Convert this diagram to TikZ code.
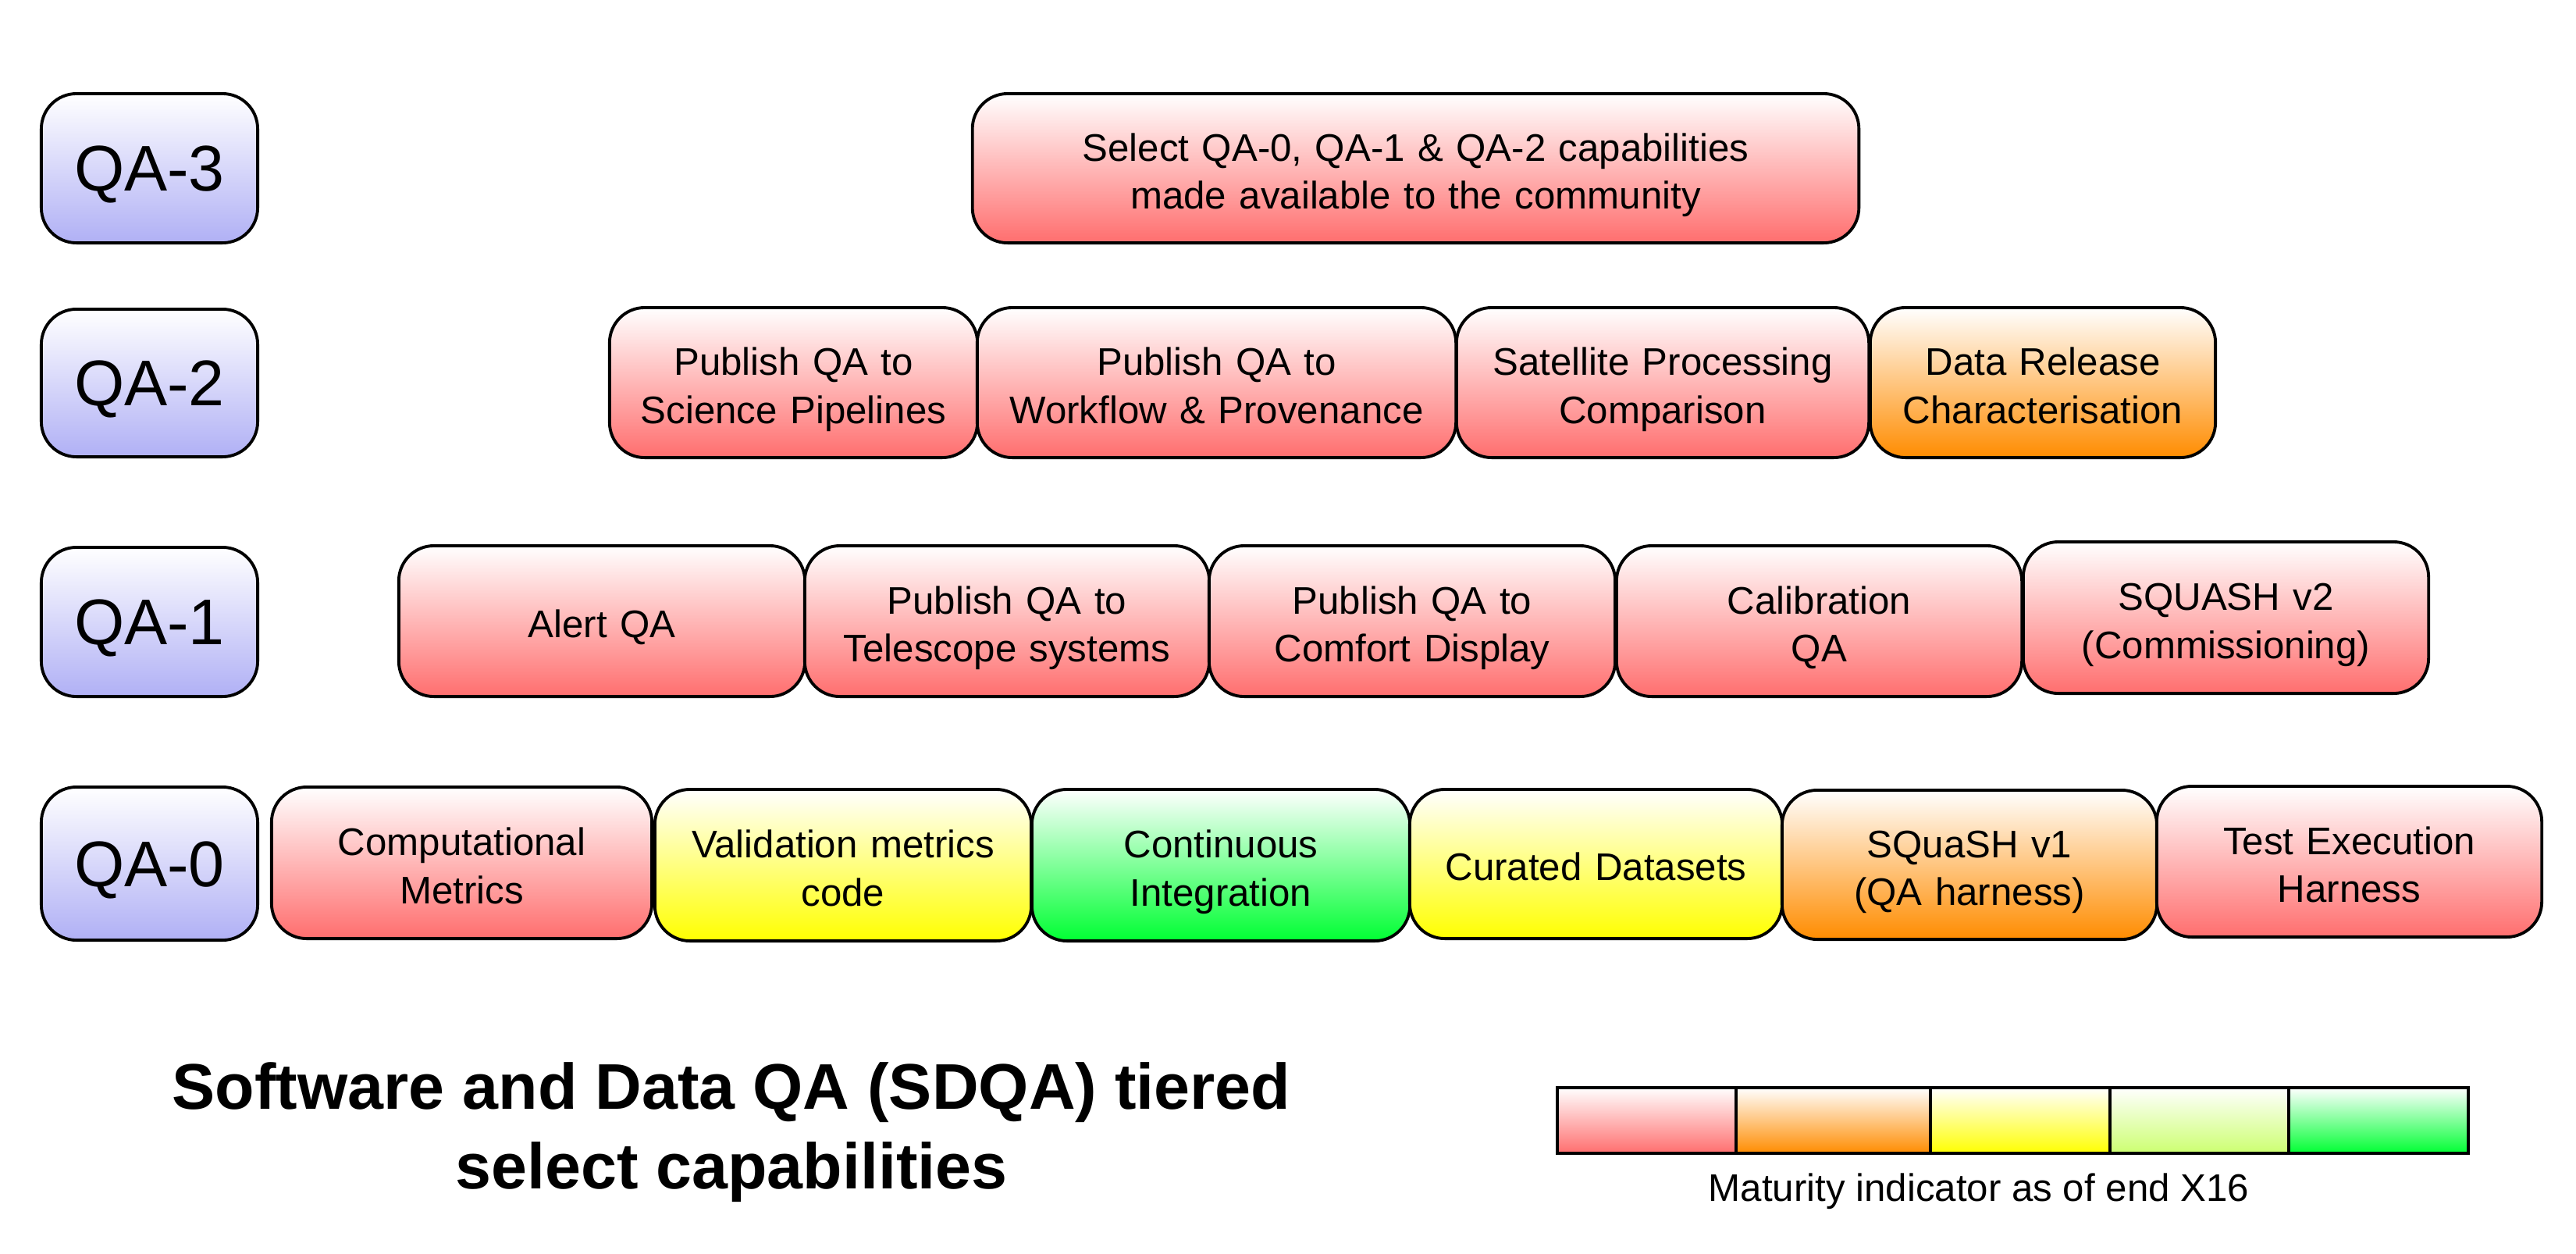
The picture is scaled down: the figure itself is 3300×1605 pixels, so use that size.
\documentclass[tikz,border=0pt]{standalone}
\usepackage{fontspec}
\setmainfont{Liberation Sans}
\usepackage{xcolor}
\usepackage{tikz}

\newcommand\boxfont{\fontsize{14}{17.5}\selectfont}
\newcommand\tierfont{\fontsize{23.5}{29}\selectfont}
\newcommand\titlefont{\bfseries\fontsize{23.5}{29}\selectfont}
\newcommand\topstrut[1]{\rule{0pt}{#1}}
\newcommand\bottomstrut[1]{\rule[-#1]{0pt}{#1}}

\begin{document}
\begin{tikzpicture}[x = 0.01cm,
                    y = -0.01cm]

  \useasboundingbox (0,0) rectangle (3300,1605);

  % FACES COLOURS
  \definecolor{edgecolor}{rgb}{ 0,0,0 }
  \definecolor{facecolor_blue}{RGB}{ 176,176,245 }
  \definecolor{facecolor_red}{RGB}{ 255,110,110 }
  \definecolor{facecolor_orange}{RGB}{ 255,140,0 }
  \definecolor{facecolor_yellow}{RGB}{ 255,255,0 }
  \definecolor{facecolor_lime}{RGB}{ 204,255,112 }
  \definecolor{facecolor_green}{RGB}{ 0,255,51 }


  % FACES STYLE
  \tikzstyle{facebase} = [draw=edgecolor, line width=1.1pt, rounded corners=0.45cm, align=center, inner sep=0pt, top color=white]
  \tikzstyle{facestyle} = [facebase, font=\boxfont, execute at begin node=\topstrut{15.2pt}, execute at end node=\bottomstrut{3.1pt}]
  \tikzstyle{tierstyle} = [facebase, font=\tierfont, execute at begin node=\topstrut{21.8pt}, execute at end node=\bottomstrut{5.2pt}, bottom color=facecolor_blue, text width=2.77cm]
  \tikzstyle{facestyle_red} = [facestyle, bottom color=facecolor_red]
  \tikzstyle{facestyle_orange} = [facestyle, bottom color=facecolor_orange]
  \tikzstyle{facestyle_yellow} = [facestyle, bottom color=facecolor_yellow]
  \tikzstyle{facestyle_green} = [facestyle, bottom color=facecolor_green]
  \tikzstyle{cellstyle} = [draw=edgecolor, line width=1.1pt, inner sep=0pt, minimum height=0.84cm, top color=white]


  % TIERS
  \node[tierstyle, minimum height=1.91cm] (qa3) at (191.5, 215.5) {QA-3};
  \node[tierstyle, minimum height=1.89cm] (qa2) at (191.5, 490.5) {QA-2};
  \node[tierstyle, minimum height=1.91cm] (qa1) at (191.5, 796.5) {QA-1};
  \node[tierstyle, minimum height=1.96cm] (qa0) at (191.5, 1106) {QA-0};


  % QA-3
  \node[facestyle_red, text width=11.35cm, minimum height=1.91cm] (b0_qa3) at (1813.5, 215.5) {Select QA-0, QA-1 \& QA-2 capabilities\\made available to the community};


  % QA-2
  \node[facestyle_red, text width=4.71cm, minimum height=1.92cm] (b0_qa2) at (1016.5, 490) {Publish QA to\\Science Pipelines};
  \node[facestyle_red, text width=6.13cm, minimum height=1.92cm] (b1_qa2) at (1558.5, 490) {Publish QA to\\Workflow \& Provenance};
  \node[facestyle_red, text width=5.28cm, minimum height=1.92cm] (b2_qa2) at (2130, 490) {Satellite Processing\\Comparison};
  \node[facestyle_orange, text width=4.42cm, minimum height=1.92cm] (b3_qa2) at (2617, 490) {Data Release\\Characterisation};


  % QA-1
  \node[facestyle_red, text width=5.20cm, minimum height=1.93cm] (b0_qa1) at (771, 795.5) {Alert QA};
  \node[facestyle_red, text width=5.18cm, minimum height=1.93cm] (b1_qa1) at (1290, 795.5) {Publish QA to\\Telescope systems};
  \node[facestyle_red, text width=5.20cm, minimum height=1.93cm] (b2_qa1) at (1809, 795.5) {Publish QA to\\Comfort Display};
  \node[facestyle_red, text width=5.19cm, minimum height=1.93cm] (b3_qa1) at (2330.5, 795.5) {Calibration\\QA};
  \node[facestyle_red, text width=5.19cm, minimum height=1.94cm] (b4_qa1) at (2851.5, 791) {SQUASH v2\\(Commissioning)};


  % QA-0
  \node[facestyle_red, text width=4.87cm, minimum height=1.94cm] (b0_qa0) at (591.5, 1105) {Computational\\Metrics};
  \node[facestyle_yellow, text width=4.82cm, minimum height=1.94cm] (b1_qa0) at (1080, 1108) {Validation metrics\\code};
  \node[facestyle_green, text width=4.84cm, minimum height=1.94cm] (b2_qa0) at (1564, 1108) {Continuous\\Integration};
  \node[facestyle_yellow, text width=4.77cm, minimum height=1.91cm] (b3_qa0) at (2044.5, 1106.5) {Curated Datasets};
  \node[facestyle_orange, text width=4.80cm, minimum height=1.91cm] (b4_qa0) at (2523, 1107.5) {SQuaSH v1\\(QA harness)};
  \node[facestyle_red, text width=4.93cm, minimum height=1.93cm] (b5_qa0) at (3009.5, 1103.5) {Test Execution\\Harness};


  % TITLE
  \node[align=center, font=\titlefont, inner sep=0pt] (title) at (937, 1450) {Software and Data QA (SDQA) tiered\\select capabilities};


  % LEGEND
  \node[cellstyle, bottom color=facecolor_red, minimum width=2.29cm] (c0_legend) at (2109.5, 1435) {};
  \node[cellstyle, bottom color=facecolor_orange, minimum width=2.49cm] (c1_legend) at (2348.5, 1435) {};
  \node[cellstyle, bottom color=facecolor_yellow, minimum width=2.30cm] (c2_legend) at (2588, 1435) {};
  \node[cellstyle, bottom color=facecolor_lime, minimum width=2.29cm] (c3_legend) at (2817.5, 1435) {};
  \node[cellstyle, bottom color=facecolor_green, minimum width=2.30cm] (c4_legend) at (3047, 1435) {};
  \node[font=\boxfont, anchor=base, inner sep=0pt] (maturity) at (2535, 1538) {Maturity indicator as of end X16};

\end{tikzpicture}
\end{document}
